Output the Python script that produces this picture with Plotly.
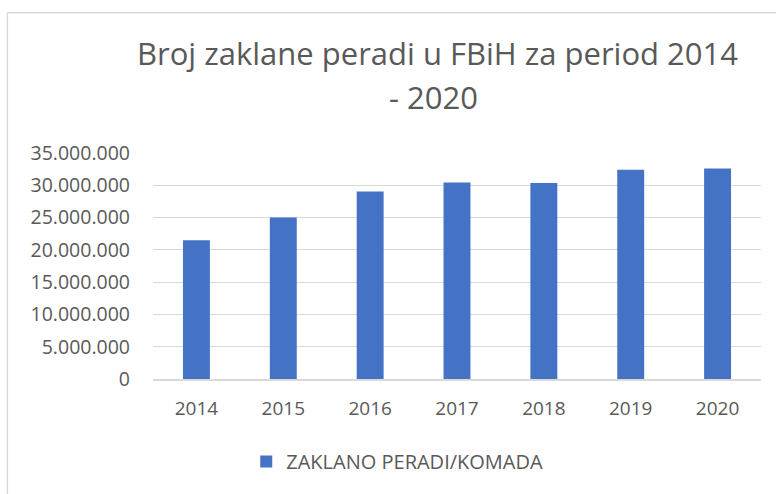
import plotly.graph_objects as go

years = ["2014", "2015", "2016", "2017", "2018", "2019", "2020"]
values = [21480000, 25030000, 29030000, 30420000, 30370000, 32400000, 32600000]
series_name = "ZAKLANO PERADI/KOMADA"
title_line1 = "Broj zaklane peradi u FBiH za period 2014"
title_line2 = "- 2020"

W, H = 776, 494
L, R, T, B = 152.7, 15, 152.7, 114.7
pw = W - L - R
ph = H - T - B

def px_x(x):
    return (x - L) / pw

def px_y(y):
    return (H - B - y) / ph

txt = "#595959"
grid = "#d9d9d9"

fig = go.Figure()
fig.add_trace(go.Bar(x=years, y=values, name=series_name,
                     marker=dict(color="#4472c4", line=dict(width=0)),
                     showlegend=True))

fig.update_layout(
    width=W, height=H,
    margin=dict(l=L, r=R, t=T, b=B, pad=0),
    paper_bgcolor="white", plot_bgcolor="white",
    separators=",.",
    font=dict(family="Open Sans", color=txt, size=18),
    bargap=0.69,
    showlegend=True,
    legend=dict(orientation="h", x=px_x(246), xanchor="left",
                y=px_y(462), yanchor="middle",
                font=dict(size=20, color=txt), bgcolor="rgba(0,0,0,0)"),
    xaxis=dict(type="category", showgrid=False, showline=True, linecolor=grid,
               linewidth=1.5, ticks="", tickfont=dict(size=19, color=txt),
               ticklabelstandoff=11),
    yaxis=dict(range=[0, 35000000], dtick=5000000, tickformat=",d",
               showgrid=True, gridcolor=grid, gridwidth=1.3, zeroline=False,
               showline=False, ticks="", tickfont=dict(size=19.5, color=txt),
               ticklabelstandoff=22),
    annotations=[
        dict(text=title_line1, xref="paper", yref="paper", x=px_x(437), y=px_y(52),
             xanchor="center", yanchor="middle", showarrow=False,
             font=dict(size=31, color=txt, family="Open Sans")),
        dict(text=title_line2, xref="paper", yref="paper", x=px_x(433), y=px_y(97),
             xanchor="center", yanchor="middle", showarrow=False,
             font=dict(size=31, color=txt, family="Open Sans")),
    ],
    shapes=[
        dict(type="line", xref="paper", yref="paper", x0=px_x(7), x1=px_x(800),
             y0=px_y(12), y1=px_y(12), line=dict(color=grid, width=1.5)),
        dict(type="line", xref="paper", yref="paper", x0=px_x(7), x1=px_x(7),
             y0=px_y(12), y1=px_y(500), line=dict(color=grid, width=1.5)),
    ],
)

fig.write_html("out.html", config={"displayModeBar": False},
               post_script="document.body.style.margin='0';document.body.style.padding='0';")
